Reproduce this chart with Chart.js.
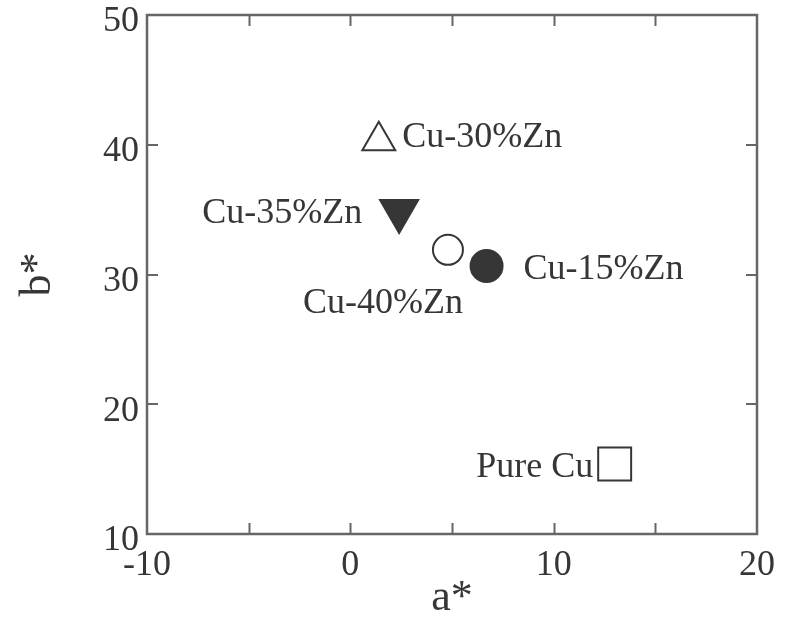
<!DOCTYPE html>
<html>
<head>
<meta charset="utf-8">
<script src="https://cdn.jsdelivr.net/npm/chart.js@4.4.1/dist/chart.umd.min.js"></script>
<style>
  html, body { margin: 0; padding: 0; background: #ffffff; }
  #wrap { width: 790px; height: 620px; }
</style>
</head>
<body>
<div id="wrap"><canvas id="c" width="790" height="620"></canvas></div>
<script>
// ---- data ----
const seriesNames = ['Cu-30%Zn', 'Cu-35%Zn', 'Cu-40%Zn', 'Cu-15%Zn', 'Pure Cu'];
const aStar = [1.4, 2.4, 4.8, 6.7, 13.0];
const bStar = [40.3, 34.9, 31.9, 30.65, 15.4];
const xTickLabels = [-10, 0, 10, 20];
const yTickLabels = [10, 20, 30, 40, 50];
const xTickMarks = [-5, 0, 5, 10, 15];
const yTickMarks = [20, 30, 40];

// ---- styles ----
const INK = '#363636';
const FRAME = '#666666';
const markerStyle = [
  { style: 'triangle', radius: 19, rotation: 0,   fill: '#ffffff' },
  { style: 'triangle', radius: 22, rotation: 180, fill: INK },
  { style: 'circle',   radius: 15, rotation: 0,   fill: '#ffffff' },
  { style: 'circle',   radius: 16, rotation: 0,   fill: INK },
  { style: 'rect',     radius: 23.3, rotation: 0, fill: '#ffffff' }
];
// label placement relative to each marker (pixels)
const labelPlacement = [
  { dx: 23.5, dy: 6, align: 'left' },
  { dx: -37, dy: 12, align: 'right' },
  { dx: -145, dy: 63.5, align: 'left' },
  { dx: 37, dy: 13, align: 'left' },
  { dx: -21.5, dy: 13, align: 'right' }
];

const SERIF = '"Liberation Serif", "DejaVu Serif", serif';
const noPad = () => ({ left: 0, top: 0, right: 0, bottom: 0 });

const datasets = seriesNames.map((name, i) => ({
  label: name,
  data: [{ x: aStar[i], y: bStar[i] }],
  pointStyle: markerStyle[i].style,
  pointRadius: markerStyle[i].radius,
  pointHoverRadius: markerStyle[i].radius,
  pointRotation: markerStyle[i].rotation,
  backgroundColor: markerStyle[i].fill,
  borderColor: INK,
  borderWidth: 2,
  showLine: false
}));

const framePlugin = {
  id: 'frame',
  beforeDatasetsDraw(chart) {
    const { ctx, chartArea: a, scales } = chart;
    ctx.save();
    ctx.strokeStyle = FRAME;
    ctx.lineWidth = 2;
    const tl = 11;
    ctx.beginPath();
    xTickMarks.forEach(v => {
      const px = Math.round(scales.x.getPixelForValue(v)) + 0.5;
      ctx.moveTo(px, a.bottom); ctx.lineTo(px, a.bottom - tl);
      ctx.moveTo(px, a.top); ctx.lineTo(px, a.top + tl);
    });
    yTickMarks.forEach(v => {
      const py = Math.round(scales.y.getPixelForValue(v));
      ctx.moveTo(a.left, py); ctx.lineTo(a.left + tl, py);
      ctx.moveTo(a.right, py); ctx.lineTo(a.right - tl, py);
    });
    ctx.stroke();
    ctx.lineWidth = 2.5;
    ctx.strokeRect(a.left, a.top, a.right - a.left, a.bottom - a.top);
    ctx.restore();
  }
};

const labelPlugin = {
  id: 'pointLabels',
  afterDatasetsDraw(chart) {
    const { ctx } = chart;
    ctx.save();
    ctx.fillStyle = INK;
    ctx.font = '36px ' + SERIF;
    ctx.textBaseline = 'alphabetic';
    chart.data.datasets.forEach((ds, i) => {
      const el = chart.getDatasetMeta(i).data[0];
      const p = labelPlacement[i];
      ctx.textAlign = p.align;
      ctx.fillText(ds.label, el.x + p.dx, el.y + p.dy);
    });
    ctx.restore();
  }
};

new Chart(document.getElementById('c'), {
  type: 'scatter',
  data: { datasets },
  options: {
    responsive: false,
    animation: false,
    layout: { autoPadding: false, padding: { top: 15, right: 33, bottom: 0, left: 0 } },
    plugins: { legend: { display: false }, tooltip: { enabled: false } },
    scales: {
      x: {
        type: 'linear',
        min: -10, max: 20,
        afterBuildTicks(s) { s.ticks = xTickLabels.map(v => ({ value: v })); },
        afterFit(s) { s.height = 86; s.paddingLeft = 0; s.paddingRight = 0; s.getPadding = noPad; },
        grid: { display: false, drawTicks: false },
        border: { display: false },
        ticks: {
          color: INK, padding: 10, maxRotation: 0, autoSkip: false,
          font: { family: SERIF, size: 36 }
        },
        title: {
          display: true, text: 'a*', color: INK,
          font: { family: SERIF, size: 44, lineHeight: 1 },
          padding: { top: 0, bottom: 0 }
        }
      },
      y: {
        type: 'linear',
        min: 10, max: 50,
        afterBuildTicks(s) { s.ticks = yTickLabels.map(v => ({ value: v })); },
        afterFit(s) { s.width = 147; s.paddingTop = 0; s.paddingBottom = 0; s.getPadding = noPad; },
        grid: { display: false, drawTicks: false },
        border: { display: false },
        ticks: {
          color: INK, padding: 8, labelOffset: 7, autoSkip: false,
          font: { family: SERIF, size: 36 }
        },
        title: {
          display: true, text: 'b*', color: INK,
          font: { family: SERIF, size: 44, lineHeight: 1 },
          padding: { top: 16, bottom: 0 }
        }
      }
    }
  },
  plugins: [framePlugin, labelPlugin]
});
</script>
</body>
</html>
